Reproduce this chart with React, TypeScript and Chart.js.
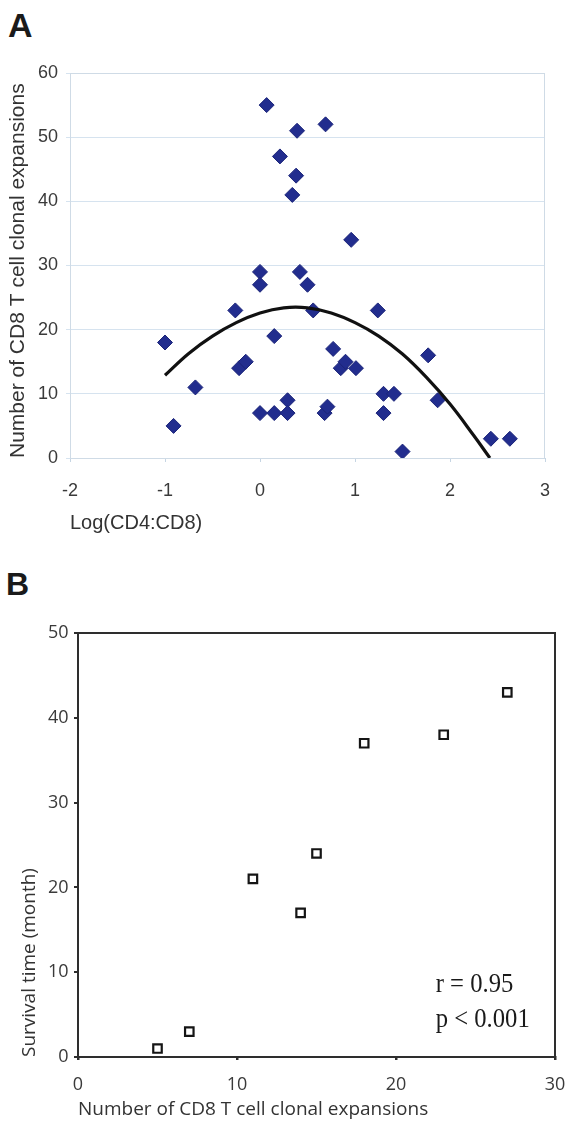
import React, { useEffect, useRef } from "react";
import { Chart, registerables } from "chart.js";

Chart.register(...registerables);

// Panel A: Log(CD4:CD8) vs number of CD8 T cell clonal expansions
const logRatioA = [
  -1.0, -0.91, -0.68, -0.26, -0.22, -0.15, 0, 0, 0, 0.07, 0.15, 0.15, 0.21, 0.29, 0.29,
  0.34, 0.38, 0.39, 0.42, 0.5, 0.56, 0.69, 0.68, 0.71, 0.77, 0.85, 0.9, 0.96, 1.01, 1.24,
  1.3, 1.41, 1.3, 1.5, 1.77, 1.87, 2.43, 2.63,
];
const expansionsA = [
  18, 5, 11, 23, 14, 15, 29, 27, 7, 55, 19, 7, 47, 9, 7,
  41, 44, 51, 29, 27, 23, 52, 7, 8, 17, 14, 15, 34, 14, 23,
  10, 10, 7, 1, 16, 9, 3, 3,
];
// Polynomial trend line
const trendX = [-1, -0.75, -0.5, -0.25, 0, 0.25, 0.5, 0.75, 1, 1.25, 1.5, 1.75, 2, 2.25, 2.42];
const trendY = [12.9, 16.3, 19.0, 21.1, 22.6, 23.4, 23.4, 22.6, 21.1, 19.0, 16.2, 12.6, 8.4, 3.5, 0];

// Panel B: number of clonal expansions vs survival time
const expansionsB = [5, 7, 11, 14, 15, 18, 23, 27];
const survivalB = [1, 3, 21, 17, 24, 37, 38, 43];

const statR = "r = 0.95";
const statP = "p < 0.001";

const SANS_A = '"Liberation Sans", Arial, sans-serif';
const SANS_B = '"Open Sans", "Noto Sans", sans-serif';
const SERIF = '"Liberation Serif", "Times New Roman", serif';

const noPadX = (h: number) => (s: any) => {
  s.height = h;
  s.paddingLeft = 0;
  s.paddingRight = 0;
};
const noPadY = (w: number) => (s: any) => {
  s.width = w;
  s.paddingTop = 0;
  s.paddingBottom = 0;
};

export default function App() {
  const refA = useRef<HTMLCanvasElement | null>(null);
  const refB = useRef<HTMLCanvasElement | null>(null);

  useEffect(() => {
    const frameA = {
      id: "frameA",
      beforeDatasetsDraw(chart: any) {
        const { ctx, chartArea: a } = chart;
        ctx.save();
        ctx.strokeStyle = "#cfdbe6";
        ctx.lineWidth = 1;
        ctx.strokeRect(a.left + 0.5, a.top + 0.5, a.right - a.left - 1, a.bottom - a.top);
        ctx.restore();
      },
    };

    const chartA = new Chart(refA.current as HTMLCanvasElement, {
      type: "scatter",
      data: {
        datasets: [
          {
            type: "line",
            data: trendX.map((x, i) => ({ x, y: trendY[i] })),
            borderColor: "#111111",
            borderWidth: 3.2,
            pointRadius: 0,
            tension: 0.4,
            fill: false,
          } as any,
          {
            data: logRatioA.map((x, i) => ({ x, y: expansionsA[i] })),
            pointStyle: "rectRot",
            pointRadius: 7.5,
            pointHoverRadius: 7.5,
            backgroundColor: "#222d8e",
            borderColor: "#1b2479",
            borderWidth: 1,
          },
        ],
      },
      options: {
        responsive: false,
        animation: false,
        events: [],
        layout: { padding: { top: 73, right: 20, left: 0, bottom: 0 } },
        plugins: { legend: { display: false }, tooltip: { enabled: false } },
        scales: {
          x: {
            type: "linear",
            min: -2,
            max: 3,
            ticks: { stepSize: 1, color: "#3a3a3a", font: { size: 18, family: SANS_A }, padding: 18 },
            grid: { drawOnChartArea: false, drawTicks: true, tickLength: 4, color: "#c6d5e3" },
            border: { display: true, color: "#c6d5e3" },
            title: {
              display: true,
              text: "Log(CD4:CD8)",
              align: "start",
              color: "#333333",
              font: { size: 20, family: SANS_A },
              padding: { top: 0, bottom: 10 },
            },
            afterFit: noPadX(87),
          },
          y: {
            type: "linear",
            min: 0,
            max: 60,
            ticks: { stepSize: 10, color: "#3a3a3a", font: { size: 18, family: SANS_A }, padding: 8 },
            grid: { color: "#d6e3ef", tickLength: 4 },
            border: { display: true, color: "#c6d5e3" },
            title: {
              display: true,
              text: "Number of CD8 T cell clonal expansions",
              align: "start",
              color: "#333333",
              font: { size: 21, family: SANS_A },
              padding: { top: 5.5, bottom: 0 },
            },
            afterFit: noPadY(70),
          },
        },
      } as any,
      plugins: [frameA],
    });

    const frameB = {
      id: "frameB",
      afterDatasetsDraw(chart: any) {
        const { ctx, chartArea: a, scales } = chart;
        ctx.save();
        ctx.strokeStyle = "#2e2e2e";
        ctx.lineWidth = 2;
        ctx.strokeRect(a.left, a.top, a.right - a.left, a.bottom - a.top);
        ctx.fillStyle = "#1a1a1a";
        ctx.font = `28px ${SERIF}`;
        ctx.textBaseline = "middle";
        ctx.textAlign = "left";
        const x0 = scales.x.getPixelForValue(22.5);
        const drawScaled = (t: string, yVal: number) => {
          ctx.save();
          ctx.translate(x0, scales.y.getPixelForValue(yVal));
          ctx.scale(0.88, 1);
          ctx.fillText(t, 0, 0);
          ctx.restore();
        };
        drawScaled(statR, 8.5);
        drawScaled(statP, 4.4);
        ctx.restore();
      },
    };

    const chartB = new Chart(refB.current as HTMLCanvasElement, {
      type: "scatter",
      data: {
        datasets: [
          {
            data: expansionsB.map((x, i) => ({ x, y: survivalB[i] })),
            pointStyle: "rect",
            pointRadius: 6,
            pointHoverRadius: 6,
            backgroundColor: "#ffffff",
            borderColor: "#151515",
            borderWidth: 2.2,
          },
        ],
      },
      options: {
        responsive: false,
        animation: false,
        events: [],
        layout: { padding: { top: 73, right: 10, left: 0, bottom: 0 } },
        plugins: { legend: { display: false }, tooltip: { enabled: false } },
        scales: {
          x: {
            type: "linear",
            min: 0,
            max: 30,
            ticks: { stepSize: 10, color: "#3a3a3a", font: { size: 18, family: SANS_B }, padding: 14 },
            grid: { drawOnChartArea: false, drawTicks: true, tickLength: 3, color: "#2e2e2e", lineWidth: 2.5 },
            border: { display: true, color: "#2e2e2e", width: 2 },
            title: {
              display: true,
              text: "Number of CD8 T cell clonal expansions",
              align: "start",
              color: "#333333",
              font: { size: 19, family: SANS_B },
              padding: { top: 0, bottom: 0 },
            },
            afterFit: noPadX(64),
          },
          y: {
            type: "linear",
            min: 0,
            max: 50,
            ticks: { stepSize: 10, color: "#3a3a3a", font: { size: 18, family: SANS_B }, padding: 5.5 },
            grid: { drawOnChartArea: false, drawTicks: true, tickLength: 4, color: "#2e2e2e", lineWidth: 2 },
            border: { display: true, color: "#2e2e2e", width: 2 },
            title: {
              display: true,
              text: "Survival time (month)",
              align: "start",
              color: "#333333",
              font: { size: 19, family: SANS_B },
              padding: { top: 18.6, bottom: 0 },
            },
            afterFit: noPadY(78),
          },
        },
      } as any,
      plugins: [frameB],
    });

    return () => {
      chartA.destroy();
      chartB.destroy();
    };
  }, []);

  const letter: React.CSSProperties = {
    position: "absolute",
    fontFamily: SANS_A,
    fontWeight: 700,
    lineHeight: 1,
    color: "#1a1a1a",
    margin: 0,
  };

  return (
    <div
      style={{
        position: "absolute",
        left: 0,
        top: 0,
        width: 565,
        height: 1121,
        background: "#ffffff",
        overflow: "hidden",
      }}
    >
      <div style={{ ...letter, left: 8, top: 8, fontSize: 34 }}>A</div>
      <div style={{ ...letter, left: 6, top: 568, fontSize: 32 }}>B</div>
      <canvas
        ref={refA}
        width={565}
        height={545}
        style={{ position: "absolute", left: 0, top: 0, width: 565, height: 545, display: "block" }}
      />
      <canvas
        ref={refB}
        width={565}
        height={561}
        style={{ position: "absolute", left: 0, top: 560, width: 565, height: 561, display: "block" }}
      />
    </div>
  );
}
